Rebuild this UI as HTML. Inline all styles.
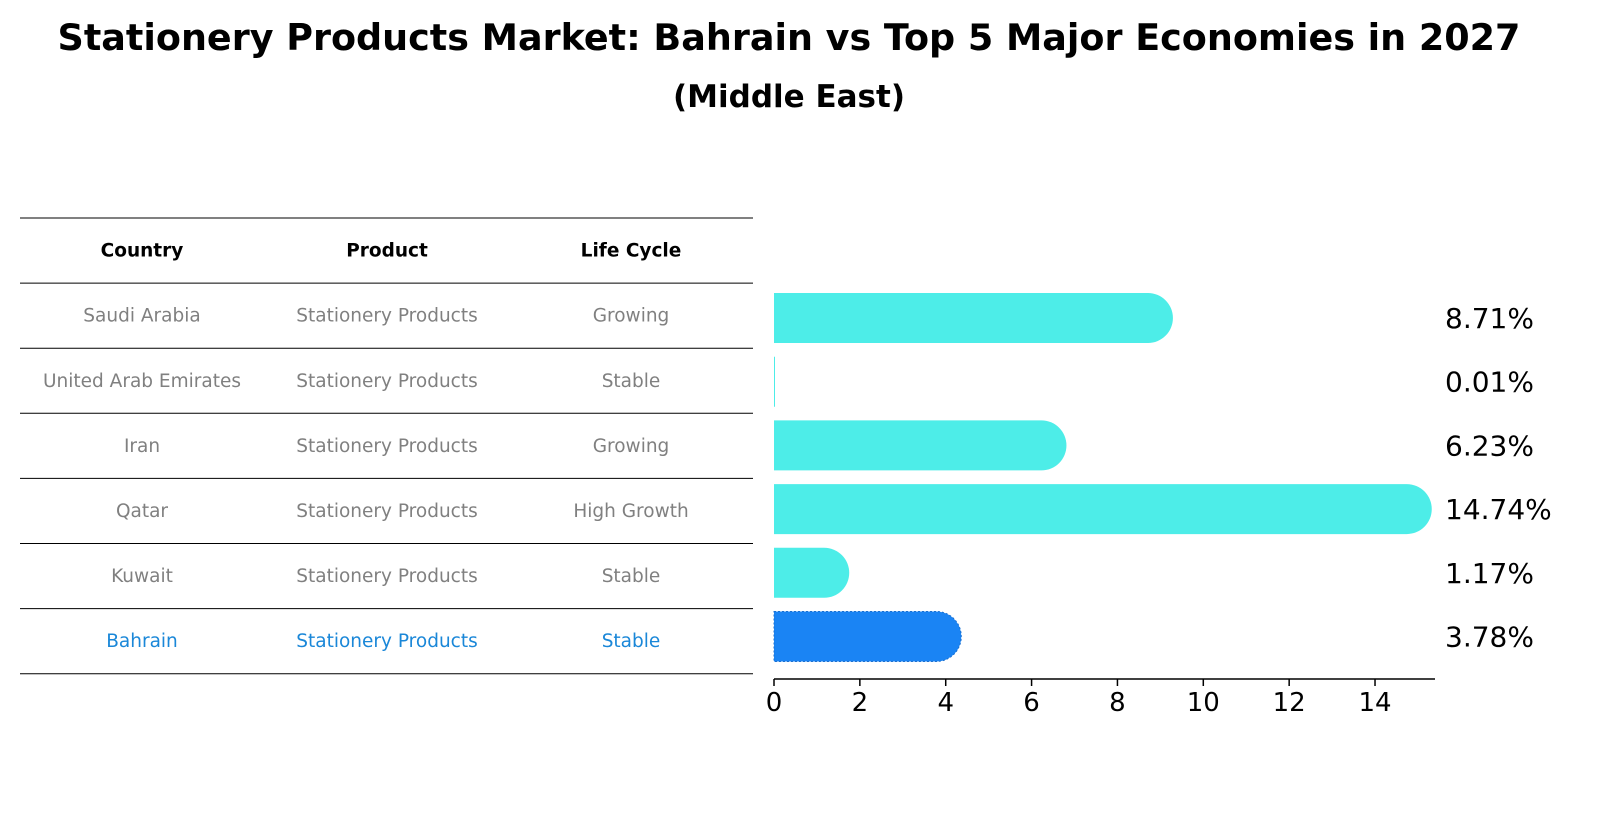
<!DOCTYPE html>
<html><head><meta charset="utf-8"><style>
body{margin:0;background:#fff;font-family:"Liberation Sans","DejaVu Sans",sans-serif;}
</style></head><body>
<svg width="1605" height="823" xmlns="http://www.w3.org/2000/svg">
<text x="789" y="50" text-anchor="middle" font-size="36.5" font-weight="bold" font-family="DejaVu Sans, Liberation Sans, sans-serif">Stationery Products Market: Bahrain vs Top 5 Major Economies in 2027</text>
<text x="789" y="107" text-anchor="middle" font-size="31" font-weight="bold" font-family="DejaVu Sans, Liberation Sans, sans-serif">(Middle East)</text>
<g id="table"></g>
<g id="bars"></g>
</svg>
<script>
const countries=["Saudi Arabia","United Arab Emirates","Iran","Qatar","Kuwait","Bahrain"];
const products=["Stationery Products","Stationery Products","Stationery Products","Stationery Products","Stationery Products","Stationery Products"];
const lifeCycles=["Growing","Stable","Growing","High Growth","Stable","Stable"];
const values=[8.71,0.01,6.23,14.74,1.17,3.78];
const xTicks=[0,2,4,6,8,10,12,14];
const NS="http://www.w3.org/2000/svg";
function mk(tag,attrs,parent){const e=document.createElementNS(NS,tag);for(const k in attrs)e.setAttribute(k,attrs[k]);parent.appendChild(e);return e;}
const tbl=document.getElementById('table');
const font="DejaVu Sans, Liberation Sans, sans-serif";
const colX=[142,387,631];
const lineTop=218,rowH=65.1;
for(let i=0;i<=countries.length+1;i++){
  const l=mk('line',{x1:20,x2:753,y1:lineTop+i*rowH,y2:lineTop+i*rowH,stroke:'#000','stroke-width':1},tbl);
  
  
}
["Country","Product","Life Cycle"].forEach((h,j)=>{
  const t=mk('text',{x:colX[j],y:lineTop+rowH/2+6,'text-anchor':'middle','font-size':18.5,'font-weight':'bold','font-family':font},tbl);
  t.textContent=h;
  
  
});
countries.forEach((c,i)=>{
  const y=lineTop+(i+1)*rowH+rowH/2+6;
  const col=c==="Bahrain"?'#1a87d8':'#808080';
  [c,products[i],lifeCycles[i]].forEach((v,j)=>{
    const t=mk('text',{x:colX[j],y:y,'text-anchor':'middle','font-size':18.5,fill:col,'font-family':font},tbl);
    t.textContent=v;
    
    
  });
});
const bars=document.getElementById('bars');
const x0=774,scale=42.93;
const xs=v=>x0+v*scale;
const yTop=293,pitch=63.7,bh=50;
values.forEach((v,i)=>{
  const y=yTop+i*pitch;
  const isB=countries[i]==="Bahrain";
  const col=isB?'#1a84f4':'#4dede8';
  const w=xs(v)-x0;
  const r=bh/2;
  let d;
  if(w<1){d=`M${x0},${y}h1v${bh}h-1z`;}
  else d=`M${x0},${y}H${x0+w}A${r},${r} 0 0 1 ${x0+w},${y+bh}H${x0}Z`;
  const p=mk('path',{d:d,fill:col},bars);
  if(isB){p.setAttribute('stroke','#1a6fd0');p.setAttribute('stroke-dasharray','2,2');p.setAttribute('stroke-width','1');}
  
  
  const t=mk('text',{x:1445,y:y+bh/2+10,'font-size':28,'font-family':font},bars);
  t.textContent=v.toFixed(2)+'%';
  
  
});
const ax=mk('line',{x1:x0,x2:1435,y1:679,y2:679,stroke:'#000','stroke-width':1.5},bars);


xTicks.forEach(v=>{
  const tk=mk('line',{x1:xs(v),x2:xs(v),y1:679,y2:686,stroke:'#000','stroke-width':1.5},bars);
  
  
  const t=mk('text',{x:xs(v),y:711,'text-anchor':'middle','font-size':26,'font-family':font},bars);
  t.textContent=v;
  
  
});
</script>
</body></html>
